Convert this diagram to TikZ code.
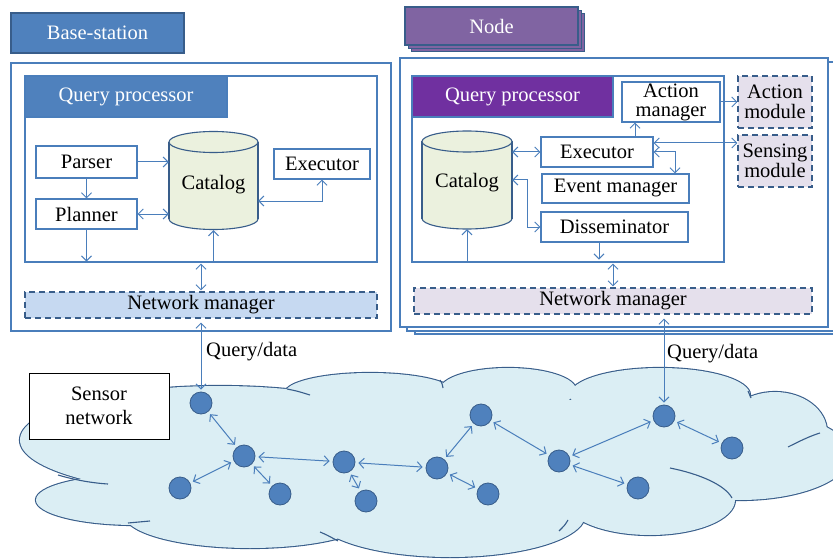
\documentclass[tikz,border=0pt]{standalone}
\usepackage{fontspec}
\setmainfont{Liberation Serif}
\usetikzlibrary{arrows.meta}
\definecolor{linec}{HTML}{4A7EBB}
\definecolor{darkc}{HTML}{385D8A}
\definecolor{bsblue}{HTML}{4F81BD}
\definecolor{ndpurple}{HTML}{8064A2}
\definecolor{qppurple}{HTML}{7030A0}
\definecolor{catfill}{HTML}{EBF1DE}
\definecolor{nmblue}{HTML}{C6D9F1}
\definecolor{nmlilac}{HTML}{E5E0EC}
\definecolor{cloudc}{HTML}{DBEEF4}
% cloud lobes: x/y/x radius/y radius
\newcommand{\cloudlobes}{220/440/200/54, 135/500/99/25, 250/515/125/33,
  450/515/135/42, 650/500/85/35, 370/393/85/20, 508/390/68/22,
  660/395/90/27, 775/432/52/40, 740/455/110/45, 450/455/300/60}
% database drum: centre x / top cap y / bottom cap y / x radius
\newcommand{\drum}[4]{%
  \draw[darkc, fill=catfill, line width=1.1pt] (#1,#3) ellipse [x radius=#4, y radius=10.5];
  \fill[catfill] (#1-#4,#2) rectangle (#1+#4,#3);
  \draw[darkc, line width=1.1pt] (#1-#4,#2) -- (#1-#4,#3) (#1+#4,#2) -- (#1+#4,#3);
  \draw[darkc, fill=catfill, line width=1.1pt] (#1,#2) ellipse [x radius=#4, y radius=10.5];}
\begin{document}
\begin{tikzpicture}[x=1pt, y=-1pt,
  every node/.style={font=\fontsize{20.5}{22}\selectfont, inner sep=0pt},
  box/.style={rectangle, draw=linec, fill=white, line width=1.1pt},
  headbox/.style={rectangle, draw=linec, line width=1.1pt, text=white},
  dashbox/.style={rectangle, draw=darkc, line width=1.1pt, dash pattern=on 6pt off 4pt},
  sensor/.style={circle, fill=bsblue, draw=darkc, line width=0.8pt, minimum size=22pt},
  cloudline/.style={darkc, line width=1.1pt},
  link/.style={draw=linec, line width=1pt, >={Straight Barb[length=5pt,width=10pt]}}]
  \useasboundingbox (0,0) rectangle (833,559);
  \clip (0,0) rectangle (833,559);

  % --- Base-station ---
  \node[headbox, fill=bsblue, draw=darkc, minimum width=173, minimum height=40] (bsLabel) at (97.5,33) {Base-station};
  \node[box, minimum width=380, minimum height=268] (bsBox) at (201,197) {};
  \node[box, minimum width=352, minimum height=186] (qpL) at (201,169) {};
  \node[headbox, fill=bsblue, minimum width=202, minimum height=41] (qpHeadL) at (126,96.5) {Query processor};
  \node[box, minimum width=101, minimum height=32] (parser) at (86.5,162) {Parser};
  \node[box, minimum width=101, minimum height=30] (planner) at (86.5,214) {Planner};
  \drum{213.5}{142}{219}{44.5}
  \node[minimum width=89, minimum height=99] (catL) at (213.5,180.5) {\raisebox{-4pt}[\height][\depth]{Catalog}};
  \node[box, minimum width=96, minimum height=30] (execL) at (322,164) {Executor};
  \node[dashbox, fill=nmblue, minimum width=352, minimum height=26] (nmL) at (201,305) {Network manager};

  % --- Node (stacked) ---
  \foreach \dx/\dy in {6/7, 3/3.5}
    \draw[fill=ndpurple, draw=darkc, line width=1pt] (405+\dx,7+\dy) rectangle (578+\dx,45+\dy);
  \node[headbox, fill=ndpurple, draw=darkc, minimum width=173, minimum height=38] (ndLabel) at (491.5,26) {Node};
  \foreach \dx/\dy in {15/7, 7/4}
    \draw[fill=white, draw=linec, line width=1.1pt] (400+\dx,58+\dy) rectangle (828+\dx,327+\dy);
  \node[box, minimum width=428, minimum height=269] (ndBox) at (614,192.5) {};
  \node[box, minimum width=312, minimum height=186] (qpR) at (568,169) {};
  \node[headbox, fill=qppurple, minimum width=201, minimum height=41] (qpHeadR) at (512.5,96.5) {Query processor};
  \node[box, minimum width=98, minimum height=40, align=center,
    font=\fontsize{20.5}{19}\selectfont] (actman) at (671,102) {Action\\manager};
  \node[dashbox, fill=nmlilac, minimum width=74, minimum height=52, align=center,
    font=\fontsize{20.5}{20}\selectfont] (actmod) at (775,102) {Action\\module};
  \node[dashbox, fill=nmlilac, minimum width=74, minimum height=52, align=center,
    font=\fontsize{20.5}{20}\selectfont] (sensmod) at (775,161) {Sensing\\module};
  \drum{467}{141.5}{218.5}{45}
  \node[minimum width=90, minimum height=98] (catR) at (467,180) {\raisebox{-3pt}[\height][\depth]{Catalog}};
  \node[box, minimum width=112, minimum height=30] (execR) at (597,152) {Executor};
  \node[box, minimum width=147, minimum height=29] (evtman) at (615.5,188.5) {Event manager};
  \node[box, minimum width=147, minimum height=30] (dissem) at (614.5,227) {Disseminator};
  \node[dashbox, fill=nmlilac, minimum width=398, minimum height=26] (nmR) at (613,301) {Network manager};

  % --- Connectors, base-station ---
  \draw[link, ->] (parser.east) -- (parser.east -| catL.west);
  \draw[link, ->] (parser) -- (planner);
  \draw[link, <->] (planner.east) -- (planner.east -| catL.west);
  \draw[link, ->, shorten >=1pt] (planner.south) -- (planner.south |- qpL.south);
  \draw[link, ->] (catL.south |- qpL.south) -- (catL.south);
  \draw[link, <->] (execL.south) |- (catL.east |- 0,201);
  \draw[link, <->, shorten <=1pt, shorten >=1pt] (nmL.north) -- (nmL.north |- qpL.south);

  % --- Connectors, node ---
  \draw[link, <->] (catR.east |- execR.west) -- (execR.west);
  \draw[link, ->] (635,0 |- execR.north) -- (635,0 |- actman.south);
  \draw[link, ->] (actman.east) -- (actmod.west);
  \coordinate (exs) at ([yshift=9pt]execR.east);
  \draw[link, <->] (exs) -- (exs -| sensmod.west);
  \draw[link, <->] (execR.east) -| (675,0 |- evtman.north);
  \draw[link, <->] (catR.east) -| (527,0 |- dissem.west) -- (dissem.west);
  \draw[link, ->, shorten >=3pt] (599,0 |- dissem.south) -- (599,0 |- qpR.south);
  \draw[link, ->] (catR.south |- qpR.south) -- (catR.south);
  \draw[link, <->, shorten <=1pt, shorten >=1pt] (nmR.north) -- (nmR.north |- qpR.south);

  % --- Sensor network cloud ---
  \foreach \cx/\cy/\rx/\ry in \cloudlobes
    \draw[darkc, line width=2.2pt] (\cx,\cy) ellipse [x radius=\rx, y radius=\ry];
  \foreach \cx/\cy/\rx/\ry in \cloudlobes
    \fill[cloudc] (\cx,\cy) ellipse [x radius=\rx, y radius=\ry];
  \draw[cloudline] (58,475) .. controls (75,480) and (92,483) .. (108,484);
  \draw[cloudline] (128,523) -- (150,521);
  \draw[cloudline] (287,389) .. controls (297,391) .. (310,395);
  \draw[cloudline] (320,532) .. controls (327,535) .. (338,541);
  \draw[cloudline] (440,380) .. controls (442,383) .. (443,388);
  \draw[cloudline] (568,520) .. controls (565,525) .. (559,531);
  \draw[cloudline] (670,468) .. controls (700,474) and (725,485) .. (732,498);
  \draw[cloudline] (788,447) .. controls (800,441) and (810,436) .. (820,433);
  \draw[cloudline] (748,391) .. controls (750,394) .. (751,398);

  \node[sensor] (s1) at (201,403) {};
  \node[sensor] (s2) at (244,456) {};
  \node[sensor] (s3) at (180,488) {};
  \node[sensor] (s4) at (280,494) {};
  \node[sensor] (s5) at (344,462) {};
  \node[sensor] (s6) at (366,501) {};
  \node[sensor] (s7) at (437,468) {};
  \node[sensor] (s8) at (481,415) {};
  \node[sensor] (s9) at (488,494) {};
  \node[sensor] (s10) at (559,461) {};
  \node[sensor] (s11) at (638,488) {};
  \node[sensor] (s12) at (664,416) {};
  \node[sensor] (s13) at (732,448) {};

  \foreach \a/\b in {s1/s2, s2/s3, s2/s4, s2/s5, s5/s6, s5/s7, s7/s8, s7/s9,
    s8/s10, s10/s11, s10/s12, s12/s13}
    \draw[link, <->, shorten <=3pt, shorten >=3pt] (\a) -- (\b);

  \node[draw=black, fill=white, line width=1pt, minimum width=140, minimum height=66,
    align=center, font=\fontsize{20.5}{24}\selectfont] (snet) at (99,406) {Sensor\\network};

  % --- Query/data links ---
  \draw[link, <->, shorten <=4pt, shorten >=2pt] (nmL.south) -- (s1);
  \draw[link, <->, shorten <=4pt, shorten >=2pt] (nmR.south -| s12) -- (s12);
  \node[anchor=west] (qdL) at (206,352) {Query/data};
  \node[anchor=west] (qdR) at (667,354) {Query/data};
\end{tikzpicture}
\end{document}
